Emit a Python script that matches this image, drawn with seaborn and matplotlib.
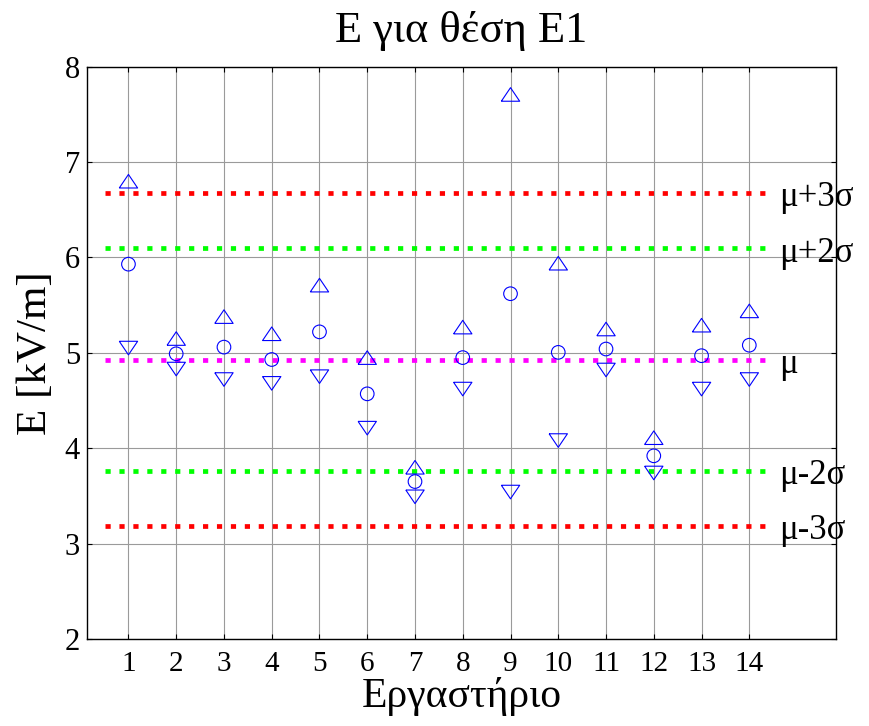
import numpy as np
import pandas as pd
import matplotlib
matplotlib.use("Agg")
import matplotlib.pyplot as plt
import seaborn as sns

# ---- data ----
labs = list(range(1, 15))
e_upper = [6.80, 5.15, 5.38, 5.20, 5.71, 4.95, 3.80, 5.27, 7.71, 5.94, 5.25, 4.11, 5.29, 5.44]
e_mean = [5.93, 4.99, 5.06, 4.93, 5.22, 4.57, 3.65, 4.95, 5.62, 5.005, 5.04, 3.92, 4.97, 5.08]
e_lower = [5.05, 4.83, 4.72, 4.68, 4.75, 4.21, 3.49, 4.62, 3.54, 4.08, 4.82, 3.74, 4.62, 4.72]

mu = 4.93
sigma = 0.583
ref_labels = ["μ+3σ", "μ+2σ", "μ", "μ-2σ", "μ-3σ"]
ref_k = [3, 2, 0, -2, -3]
ref_colors = ["#ff0000", "#00ff00", "#ff00ff", "#00ff00", "#ff0000"]
ref_x = [0.5, 14.5]

title = "E για θέση E1"
xlabel = "Εργαστήριο"
ylabel = "E [kV/m]"
yticks = [2, 3, 4, 5, 6, 7, 8]

# ---- style ----
sns.set_theme(style="white")
plt.rcParams["font.family"] = ["Liberation Serif", "DejaVu Serif"]
plt.rcParams["text.color"] = "black"
plt.rcParams["axes.labelcolor"] = "black"
plt.rcParams["xtick.color"] = "black"
plt.rcParams["ytick.color"] = "black"

fig = plt.figure(figsize=(8.69, 7.26), dpi=100)
ax = fig.add_axes([0.100, 0.120, 0.862, 0.788])

# reference lines
for k, c, lab in zip(ref_k, ref_colors, ref_labels):
    val = mu + k * sigma
    ax.plot(ref_x, [val, val], color=c, lw=3.4,
            linestyle=(0, (1.1, 1.85)), dash_capstyle="butt",
            solid_capstyle="butt", zorder=2)
    ax.annotate(lab, xy=(14.62, val), xytext=(0, -9.5),
                textcoords="offset points", ha="left", va="baseline",
                fontsize=25, color="black", annotation_clip=False, zorder=5)

# markers
tri_up = [(-1, -0.74), (1, -0.74), (0, 0.74), (-1, -0.74)]
tri_dn = [(-1, 0.74), (1, 0.74), (0, -0.74), (-1, 0.74)]
df = pd.DataFrame({"lab": labs, "up": e_upper, "mean": e_mean, "low": e_lower})
sns.scatterplot(data=df, x="lab", y="up", marker=tri_up, s=13.2 ** 2,
                facecolors="none", edgecolor="#0000ff", linewidth=0.8, ax=ax, zorder=4)
sns.scatterplot(data=df, x="lab", y="mean", marker="o", s=9.8 ** 2,
                facecolors="none", edgecolor="#0000ff", linewidth=0.8, ax=ax, zorder=4)
sns.scatterplot(data=df, x="lab", y="low", marker=tri_dn, s=13.2 ** 2,
                facecolors="none", edgecolor="#0000ff", linewidth=0.8, ax=ax, zorder=4)

ax.set_xlim(0.13, 15.815)
ax.set_ylim(2, 8)
ax.set_xticks(labs)
ax.set_xticklabels([str(v) for v in labs])
ax.set_yticks(yticks)
ax.set_yticklabels([str(v) for v in yticks])
ax.grid(True, color="#9a9a9a", lw=0.8)
ax.set_axisbelow(True)

for s in ax.spines.values():
    s.set_color("black")
    s.set_linewidth(1.0)
    s.set_visible(True)

ax.tick_params(axis="both", direction="in", length=3.5, width=0.8, color="black",
               labelcolor="black", top=True, right=True, bottom=True, left=True)
ax.tick_params(axis="x", labelsize=21, pad=9)
ax.tick_params(axis="y", labelsize=22, pad=5)

ax.set_title(title, fontsize=32, pad=18, color="black")
ax.set_xlabel(xlabel, fontsize=30, labelpad=0, color="black")
ax.set_ylabel(ylabel, fontsize=31, labelpad=7, color="black")

fig.savefig("out.png", dpi=100)
